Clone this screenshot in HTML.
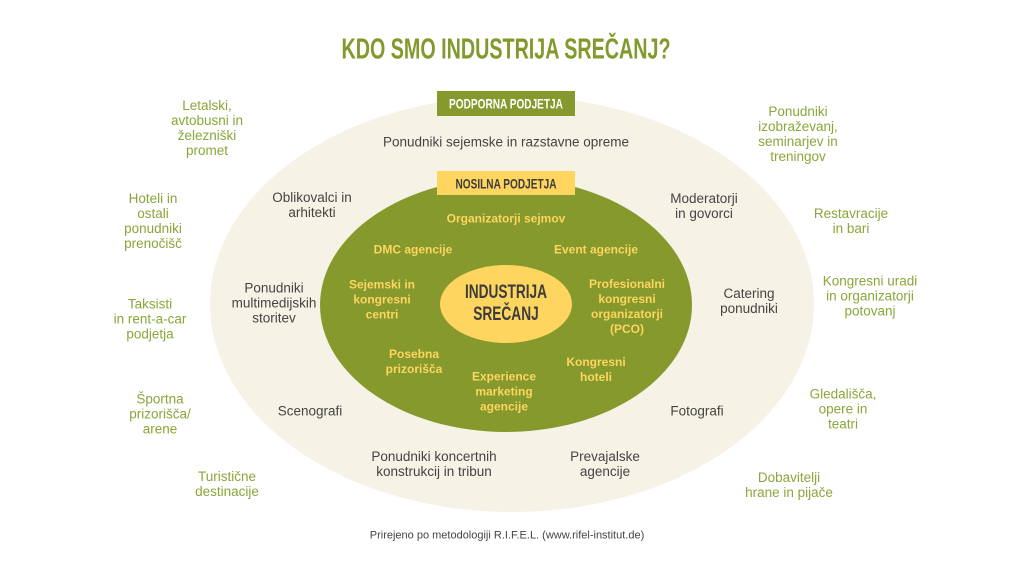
<!DOCTYPE html>
<html><head><meta charset="utf-8"><style>
body{margin:0;width:1024px;height:576px;background:#fff;position:relative;overflow:hidden;font-family:"Liberation Sans",sans-serif}
.t{position:absolute;text-align:center;transform:translate(-50%,-50%);white-space:nowrap;line-height:15px;font-size:13.5px}
.g{color:#444}.o{color:#8aa63a}.y{color:#fdd55f;font-weight:bold;font-size:12px}
.n{font-weight:bold}
</style></head><body>
<svg width="1024" height="576" style="position:absolute;left:0;top:0">
<ellipse cx="512" cy="304" rx="302" ry="208" fill="#f6f2e6"/>
<ellipse cx="506" cy="305" rx="186" ry="127" fill="#86992c"/>
<ellipse cx="506" cy="304" rx="66" ry="39" fill="#fdd55f"/>
<rect x="437" y="91" width="138" height="25" fill="#86992c"/>
<rect x="437" y="171" width="138" height="24" fill="#fdd55f"/>
</svg>
<div class="t n" style="left:506px;top:50px;font-size:29px;color:#819a2c;transform:translate(-50%,-50%) scaleX(0.68)">KDO SMO INDUSTRIJA SREČANJ?</div>
<div class="t n" style="left:506px;top:104px;font-size:14px;color:#fff;transform:translate(-50%,-50%) scaleX(0.72)">PODPORNA PODJETJA</div>
<div class="t n" style="left:506px;top:184px;font-size:14px;color:#3d3d3d;transform:translate(-50%,-50%) scaleX(0.72)">NOSILNA PODJETJA</div>
<div class="t n" style="left:506px;top:304px;font-size:19px;line-height:22px;color:#3d3d3d;transform:translate(-50%,-50%) scaleX(0.72)">INDUSTRIJA<br>SREČANJ</div>
<div class="t g" style="left:506px;top:142px">Ponudniki sejemske in razstavne opreme</div>
<div class="t g" style="left:312px;top:205px">Oblikovalci in<br>arhitekti</div>
<div class="t g" style="left:274px;top:303px">Ponudniki<br>multimedijskih<br>storitev</div>
<div class="t g" style="left:310px;top:411px">Scenografi</div>
<div class="t g" style="left:434px;top:464px">Ponudniki koncertnih<br>konstrukcij in tribun</div>
<div class="t g" style="left:605px;top:464px">Prevajalske<br>agencije</div>
<div class="t g" style="left:697px;top:411px">Fotografi</div>
<div class="t g" style="left:749px;top:301px">Catering<br>ponudniki</div>
<div class="t g" style="left:704px;top:206px">Moderatorji<br>in govorci</div>
<div class="t y" style="left:506px;top:219px">Organizatorji sejmov</div>
<div class="t y" style="left:413px;top:250px">DMC agencije</div>
<div class="t y" style="left:596px;top:250px">Event agencije</div>
<div class="t y" style="left:382px;top:300px">Sejemski in<br>kongresni<br>centri</div>
<div class="t y" style="left:627px;top:307px">Profesionalni<br>kongresni<br>organizatorji<br>(PCO)</div>
<div class="t y" style="left:414px;top:362px">Posebna<br>prizorišča</div>
<div class="t y" style="left:596px;top:370px">Kongresni<br>hoteli</div>
<div class="t y" style="left:504px;top:392px">Experience<br>marketing<br>agencije</div>
<div class="t o" style="left:207px;top:128px">Letalski,<br>avtobusni in<br>železniški<br>promet</div>
<div class="t o" style="left:153px;top:221px">Hoteli in<br>ostali<br>ponudniki<br>prenočišč</div>
<div class="t o" style="left:150px;top:319px">Taksisti<br>in rent-a-car<br>podjetja</div>
<div class="t o" style="left:160px;top:414px">Športna<br>prizorišča/<br>arene</div>
<div class="t o" style="left:227px;top:484px">Turistične<br>destinacije</div>
<div class="t o" style="left:798px;top:134px">Ponudniki<br>izobraževanj,<br>seminarjev in<br>treningov</div>
<div class="t o" style="left:851px;top:221px">Restavracije<br>in bari</div>
<div class="t o" style="left:870px;top:296px">Kongresni uradi<br>in organizatorji<br>potovanj</div>
<div class="t o" style="left:843px;top:409px">Gledališča,<br>opere in<br>teatri</div>
<div class="t o" style="left:789px;top:485px">Dobavitelji<br>hrane in pijače</div>
<div class="t g" style="left:507px;top:536px;font-size:11px">Prirejeno po metodologiji R.I.F.E.L. (www.rifel-institut.de)</div>
</body></html>
